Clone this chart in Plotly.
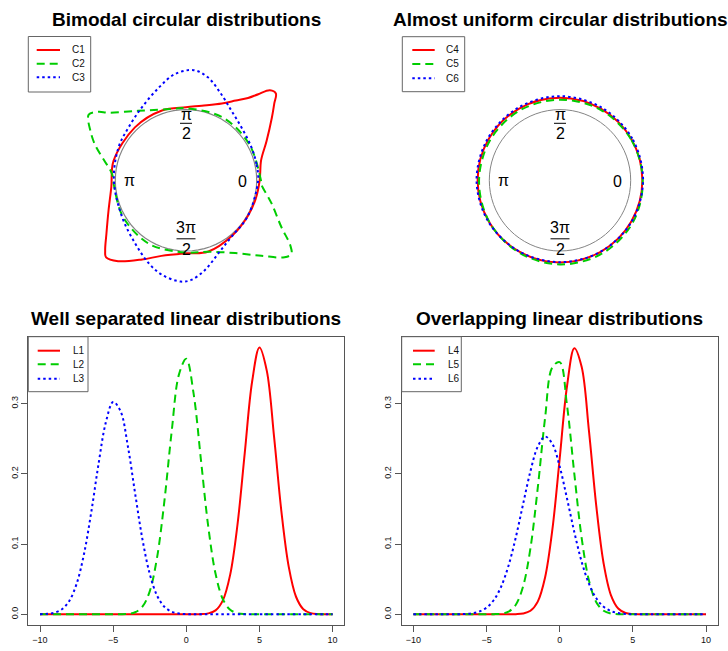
import plotly.graph_objects as go

W, H = 728, 651

RED, GREEN, BLUE = "#FF0000", "#00CD00", "#0000FF"
DASH = "8px,5px"
DOT = "2.5px,3px"
STYLES = [(RED, "solid"), (GREEN, DASH), (BLUE, DOT)]

# ---------------- linear densities (common x grid) ----------------
x_vals = [-10, -9.5, -9, -8.5, -8, -7.5, -7, -6.5, -6, -5.5,
          -5, -4.5, -4, -3.5, -3, -2.5, -2, -1.5, -1, -0.5,
          0, 0.5, 1, 1.5, 2, 2.5, 3, 3.5, 4, 4.5,
          5, 5.5, 6, 6.5, 7, 7.5, 8, 8.5, 9, 9.5, 10]

L1 = [0, 0, 0, 0, 0, 0, 0, 0, 0, 0,
      0, 0, 0, 0, 0, 0, 0, 0, 0, 0,
      0, 0, 0.0002, 0.0013, 0.0056, 0.0199, 0.0565, 0.1278, 0.2305, 0.3313,
      0.3796, 0.3467, 0.2524, 0.1465, 0.0678, 0.0250, 0.0073, 0.0017, 0.0003, 0, 0]
L2 = [0, 0, 0, 0, 0, 0, 0, 0, 0, 0,
      0, 0.0001, 0.0006, 0.0029, 0.0108, 0.0327, 0.0806, 0.1607, 0.2600, 0.3414,
      0.3635, 0.3139, 0.2199, 0.1250, 0.0576, 0.0215, 0.0065, 0.0016, 0.0003, 0.0001,
      0, 0, 0, 0, 0, 0, 0, 0, 0, 0, 0]
L3 = [0.0002, 0.0007, 0.0024, 0.0072, 0.0190, 0.0432, 0.0850, 0.1449, 0.2138, 0.2731,
      0.3021, 0.2893, 0.2399, 0.1722, 0.1070, 0.0576, 0.0268, 0.0108, 0.0038, 0.0011,
      0.0003, 0, 0, 0, 0, 0, 0, 0, 0, 0,
      0, 0, 0, 0, 0, 0, 0, 0, 0, 0, 0]
L4 = [0, 0, 0, 0, 0, 0, 0, 0, 0, 0,
      0, 0, 0, 0, 0.0002, 0.0011, 0.0050, 0.0181, 0.0524, 0.1208,
      0.2217, 0.3245, 0.3786, 0.3521, 0.2610, 0.1542, 0.0727, 0.0273, 0.0082, 0.0019,
      0.0004, 0.0001, 0, 0, 0, 0, 0, 0, 0, 0, 0]
L5 = [0, 0, 0, 0, 0, 0, 0, 0, 0, 0,
      0, 0.0002, 0.0009, 0.0038, 0.0137, 0.0399, 0.0940, 0.1799, 0.2792, 0.3515,
      0.3589, 0.2973, 0.1998, 0.1089, 0.0481, 0.0173, 0.0050, 0.0012, 0.0002, 0,
      0, 0, 0, 0, 0, 0, 0, 0, 0, 0, 0]
L6 = [0, 0, 0, 0, 0, 0, 0.0002, 0.0005, 0.0015, 0.0040,
      0.0095, 0.0204, 0.0395, 0.0691, 0.1096, 0.1571, 0.2036, 0.2386, 0.2529, 0.2425,
      0.2102, 0.1648, 0.1169, 0.0749, 0.0435, 0.0228, 0.0108, 0.0046, 0.0018, 0.0006,
      0.0002, 0, 0, 0, 0, 0, 0, 0, 0, 0, 0]

x_ticks = [-10, -5, 0, 5, 10]
y_ticks = [0.0, 0.1, 0.2, 0.3]
y_tick_text = ["0.0", "0.1", "0.2", "0.3"]

# ---------------- circular densities (degrees, density) ----------------
C1_theta = [0, 15, 26, 36, 41, 44, 47, 50, 53, 58, 65, 78, 90, 109, 134, 165, 185,
            201, 214, 221, 224, 230, 241, 252, 270, 287, 310, 330, 345, 360]
C1_dens = [0.042, 0.10, 0.268, 0.50, 0.654, 0.767, 0.74, 0.59, 0.458, 0.33, 0.20,
           0.079, 0.033, 0.044, 0.04, 0.061, 0.060, 0.173, 0.358, 0.515, 0.571,
           0.494, 0.280, 0.124, 0.033, 0.057, 0.02, 0.01, 0.02, 0.042]

C2_theta = [0, 30, 60, 90, 99, 111, 126, 139, 142, 146, 153, 159, 166, 175, 185,
            210, 240, 270, 287, 304, 315, 322, 325, 328, 334, 345, 357, 360]
C2_dens = [0.06, 0.03, 0.03, 0.02, 0.026, 0.069, 0.212, 0.457, 0.573, 0.66, 0.514,
           0.373, 0.198, 0.051, 0.02, 0.03, 0.04, 0.023, 0.057, 0.242, 0.510,
           0.769, 0.819, 0.74, 0.499, 0.251, 0.067, 0.06]

C3_theta = [0, 13, 27, 44, 57, 68, 78, 86, 96, 106, 121, 137, 154, 180, 210, 231,
            246, 256, 267, 273, 282, 294, 309, 330, 360]
C3_dens = [0.02, 0.023, 0.037, 0.086, 0.177, 0.32, 0.489, 0.562, 0.51, 0.371,
           0.207, 0.106, 0.062, 0.02, 0.043, 0.145, 0.288, 0.381, 0.434, 0.411,
           0.296, 0.129, 0.025, 0.01, 0.02]

U_theta = [0, 30, 60, 90, 120, 150, 180, 210, 240, 270, 300, 330, 360]
C4_dens = [0.165, 0.165, 0.165, 0.168, 0.168, 0.165, 0.165, 0.163, 0.162, 0.162,
           0.163, 0.165, 0.165]
C5_dens = [0.170, 0.160, 0.150, 0.140, 0.140, 0.140, 0.145, 0.160, 0.175, 0.190,
           0.195, 0.190, 0.170]
C6_dens = [0.175, 0.180, 0.185, 0.190, 0.185, 0.180, 0.180, 0.170, 0.160, 0.158,
           0.162, 0.170, 0.175]

ring_theta = list(range(0, 361, 5))


def px(x):
    return x / W


def py(y):
    return 1 - y / H


fig = go.Figure()

# ---------------- circular panels ----------------
R_MAX = 2.0
RING_PX = 70.7
half = RING_PX * R_MAX
centers = {"polar": (186.0, 180.3), "polar2": (560.0, 180.3)}

for name, (cx, cy) in centers.items():
    fig.update_layout(**{name: dict(
        domain=dict(x=[px(cx - half), px(cx + half)], y=[py(cy + half), py(cy - half)]),
        bgcolor="rgba(0,0,0,0)",
        radialaxis=dict(visible=False, range=[0, R_MAX]),
        angularaxis=dict(visible=False, rotation=0, direction="counterclockwise"),
    )})

for sub, width in (("polar", 1.2), ("polar2", 1.0)):
    fig.add_trace(go.Scatterpolar(
        r=[1] * len(ring_theta), theta=ring_theta, mode="lines", subplot=sub,
        line=dict(color="#858585", width=width), showlegend=False, hoverinfo="skip"))

for sub, sets in (("polar", [(C1_theta, C1_dens), (C2_theta, C2_dens), (C3_theta, C3_dens)]),
                  ("polar2", [(U_theta, C4_dens), (U_theta, C5_dens), (U_theta, C6_dens)])):
    for (th, d), (col, dash) in zip(sets, STYLES):
        fig.add_trace(go.Scatterpolar(
            r=[1 + v for v in d], theta=th, mode="lines", subplot=sub,
            line=dict(color=col, width=2, dash=dash, shape="spline", smoothing=1),
            showlegend=False))

# ---------------- linear panels ----------------
for ys, (col, dash) in zip([L1, L2, L3], STYLES):
    fig.add_trace(go.Scatter(x=x_vals, y=ys, mode="lines", xaxis="x", yaxis="y",
                             line=dict(color=col, width=2, dash=dash, shape="spline", smoothing=1),
                             showlegend=False))
for ys, (col, dash) in zip([L4, L5, L6], STYLES):
    fig.add_trace(go.Scatter(x=x_vals, y=ys, mode="lines", xaxis="x2", yaxis="y2",
                             line=dict(color=col, width=2, dash=dash, shape="spline", smoothing=1),
                             showlegend=False))

box_top, box_bot = 336.7, 625.0
axis_common = dict(showline=True, mirror=True, linecolor="#555", linewidth=1,
                   ticks="outside", ticklen=6, tickcolor="#555", showgrid=False,
                   zeroline=False, tickfont=dict(family="Liberation Sans, Arial", size=9, color="#111"))
xr = [-10.8, 10.8]
yr = [-0.0152, 0.395]
fig.update_layout(
    xaxis=dict(domain=[px(28.3), px(344.3)], range=xr, tickvals=x_ticks, anchor="y", **axis_common),
    yaxis=dict(domain=[py(box_bot), py(box_top)], range=yr, tickvals=y_ticks, ticktext=y_tick_text,
               tickangle=-90, anchor="x", **axis_common),
    xaxis2=dict(domain=[px(401.7), px(717.7)], range=xr, tickvals=x_ticks, anchor="y2", **axis_common),
    yaxis2=dict(domain=[py(box_bot), py(box_top)], range=yr, tickvals=y_ticks, ticktext=y_tick_text,
                tickangle=-90, anchor="x2", **axis_common),
)

# ---------------- titles ----------------
titles = [("Bimodal circular distributions", 186, 19),
          ("Almost uniform circular distributions", 560, 19),
          ("Well separated linear distributions", 186, 318),
          ("Overlapping linear distributions", 559, 318)]
annotations = []
for txt, x, y in titles:
    annotations.append(dict(text=txt, x=px(x), y=py(y), xref="paper", yref="paper",
                            showarrow=False, xanchor="center", yanchor="middle",
                            font=dict(family="Liberation Sans, Arial", size=19, color="#000", weight=700)))

# ---------------- angle labels on the circular panels ----------------
shapes = []
lab_font = dict(family="Liberation Sans, Arial", size=16, color="#000")
for cx, cy in centers.values():
    for txt, x, y in [("0", cx + 57, cy + 1.5), ("π", cx - 56.5, cy),
                      ("π", cx, cy - 66), ("2", cx, cy - 46.5),
                      ("3π", cx, cy + 47), ("2", cx, cy + 69)]:
        annotations.append(dict(text=txt, x=px(x), y=py(y), xref="paper", yref="paper",
                                showarrow=False, xanchor="center", yanchor="middle", font=lab_font))
    for y, hw in [(cy - 57, 6), (cy + 58.5, 9.5)]:
        shapes.append(dict(type="line", xref="paper", yref="paper",
                           x0=px(cx - hw), x1=px(cx + hw), y0=py(y), y1=py(y),
                           line=dict(color="#000", width=1)))

# ---------------- legend boxes ----------------
legends = [
    (["C1", "C2", "C3"], (28.3, 36.5, 90.7, 92.0), (36.7, 60.0), 70.0, (50.0, 63.7, 77.3)),
    (["C4", "C5", "C6"], (402.3, 36.7, 464.7, 91.7), (412.3, 434.7), 444.0, (50.0, 64.0, 78.3)),
    (["L1", "L2", "L3"], (28.3, 336.7, 88.0, 391.7), (37.7, 60.0), 70.7, (350.7, 364.3, 378.7)),
    (["L4", "L5", "L6"], (401.7, 336.7, 461.3, 391.7), (413.0, 434.7), 445.7, (350.7, 364.3, 378.7)),
]
for names, (bx0, by0, bx1, by1), (lx0, lx1), tx, rows in legends:
    shapes.append(dict(type="rect", xref="paper", yref="paper",
                       x0=px(bx0), x1=px(bx1), y0=py(by1), y1=py(by0),
                       line=dict(color="#666", width=1), fillcolor="rgba(0,0,0,0)"))
    for name, y, (col, dash) in zip(names, rows, STYLES):
        shapes.append(dict(type="line", xref="paper", yref="paper",
                           x0=px(lx0), x1=px(lx1), y0=py(y), y1=py(y),
                           line=dict(color=col, width=2, dash=dash)))
        annotations.append(dict(text=name, x=px(tx), y=py(y), xref="paper", yref="paper",
                                showarrow=False, xanchor="left", yanchor="middle",
                                font=dict(family="Liberation Sans, Arial", size=10, color="#111")))

fig.update_layout(
    width=W, height=H, margin=dict(l=0, r=0, t=0, b=0),
    paper_bgcolor="white", plot_bgcolor="white",
    showlegend=False, annotations=annotations, shapes=shapes,
)

fig.write_html("out.html")
